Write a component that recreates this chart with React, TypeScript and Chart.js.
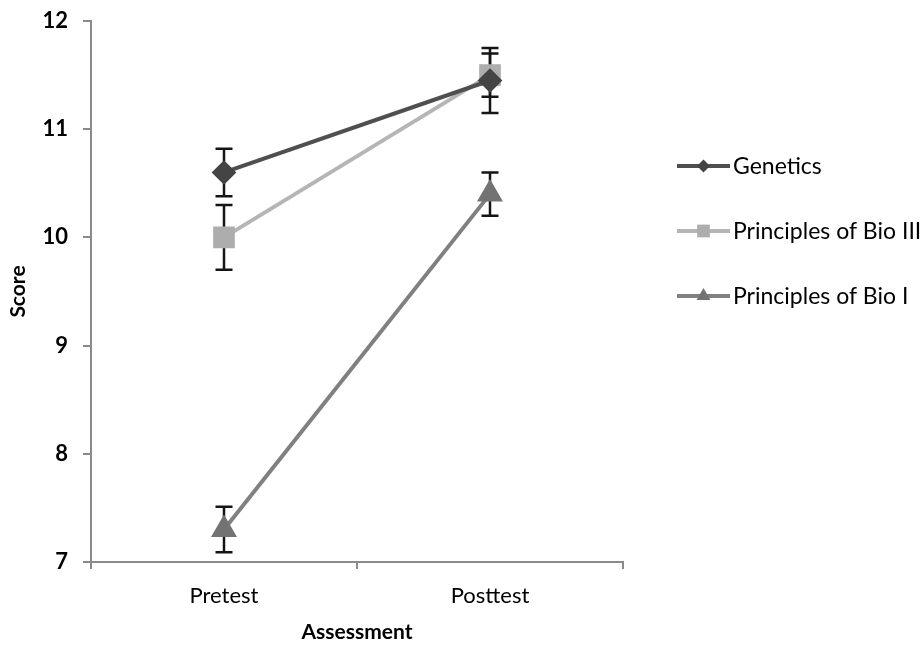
import React, { useEffect, useRef } from 'react';
import { Chart, registerables } from 'chart.js';

Chart.register(...registerables);

const categories = ['Pretest', 'Posttest'];
const seriesNames = ['Genetics', 'Principles of Bio III', 'Principles of Bio I'];
const geneticsScores = [10.6, 11.45];
const bio3Scores = [10.0, 11.5];
const bio1Scores = [7.3, 10.4];
const geneticsErr = [0.22, 0.3];
const bio3Err = [0.3, 0.2];
const bio1Err = [0.21, 0.2];
const yMin = 7;
const yMax = 12;
const yStep = 1;
const xTitle = 'Assessment';
const yTitle = 'Score';

const FONT = 'Lato, "DejaVu Sans", sans-serif';

function drawMarker(ctx: CanvasRenderingContext2D, style: string, x: number, y: number, r: number, color: string) {
  ctx.save();
  ctx.fillStyle = color;
  ctx.beginPath();
  if (style === 'rectRot') {
    ctx.moveTo(x - r, y);
    ctx.lineTo(x, y - r);
    ctx.lineTo(x + r, y);
    ctx.lineTo(x, y + r);
  } else if (style === 'rect') {
    const s = r * Math.SQRT1_2;
    ctx.rect(x - s, y - s, 2 * s, 2 * s);
  } else {
    const w = r * Math.sqrt(3) / 2;
    ctx.moveTo(x, y - r);
    ctx.lineTo(x + w, y + r / 2);
    ctx.lineTo(x - w, y + r / 2);
  }
  ctx.closePath();
  ctx.fill();
  ctx.restore();
}

const errorBarPlugin = {
  id: 'errorBars',
  beforeDatasetsDraw(chart: any) {
    const ctx = chart.ctx as CanvasRenderingContext2D;
    const yScale = chart.scales.y;
    chart.data.datasets.forEach((ds: any, i: number) => {
      const meta = chart.getDatasetMeta(i);
      meta.data.forEach((pt: any, j: number) => {
        const v = ds.data[j];
        const e = ds.errors[j];
        const top = yScale.getPixelForValue(v + e);
        const bot = yScale.getPixelForValue(v - e);
        ctx.save();
        ctx.strokeStyle = '#151515';
        ctx.lineWidth = 2.5;
        ctx.beginPath();
        ctx.moveTo(pt.x, top);
        ctx.lineTo(pt.x, bot);
        ctx.moveTo(pt.x - 8.5, top);
        ctx.lineTo(pt.x + 8.5, top);
        ctx.moveTo(pt.x - 8.5, bot);
        ctx.lineTo(pt.x + 8.5, bot);
        ctx.stroke();
        ctx.restore();
      });
    });
  },
};

const sideLegendPlugin = {
  id: 'sideLegend',
  afterDraw(chart: any, _args: any, opts: any) {
    const ctx = chart.ctx as CanvasRenderingContext2D;
    const x0 = chart.chartArea.right + opts.lineStart;
    const x1 = x0 + opts.lineLength;
    chart.data.datasets.forEach((ds: any, i: number) => {
      const y = opts.top + i * opts.spacing;
      ctx.save();
      ctx.strokeStyle = ds.borderColor;
      ctx.lineWidth = 4;
      ctx.beginPath();
      ctx.moveTo(x0, y);
      ctx.lineTo(x1, y);
      ctx.stroke();
      drawMarker(ctx, ds.pointStyle, (x0 + x1) / 2, y, opts.markerRadius[i], ds.pointBackgroundColor);
      ctx.fillStyle = '#000';
      ctx.font = opts.font;
      ctx.textBaseline = 'middle';
      ctx.textAlign = 'left';
      ctx.fillText(ds.label, x1 + 3, y + 1);
      ctx.restore();
    });
  },
};

export default function App() {
  const ref = useRef<HTMLCanvasElement>(null);
  useEffect(() => {
    if (!ref.current) return;
    const chart = new Chart(ref.current, {
      type: 'line',
      data: {
        labels: categories,
        datasets: [
          {
            label: seriesNames[0],
            data: geneticsScores,
            errors: geneticsErr,
            borderColor: '#4f4f4f',
            backgroundColor: '#444444',
            pointBackgroundColor: '#444444',
            pointBorderColor: '#444444',
            pointStyle: 'rectRot',
            pointRadius: 9.5,
            borderWidth: 4,
          } as any,
          {
            label: seriesNames[1],
            data: bio3Scores,
            errors: bio3Err,
            borderColor: '#b5b5b5',
            backgroundColor: '#adadad',
            pointBackgroundColor: '#adadad',
            pointBorderColor: '#adadad',
            pointStyle: 'rect',
            pointRadius: 12.5,
            borderWidth: 4,
          } as any,
          {
            label: seriesNames[2],
            data: bio1Scores,
            errors: bio1Err,
            borderColor: '#808080',
            backgroundColor: '#737373',
            pointBackgroundColor: '#737373',
            pointBorderColor: '#737373',
            pointStyle: 'triangle',
            pointRadius: 11,
            borderWidth: 4,
          } as any,
        ],
      },
      options: {
        animation: false,
        responsive: false,
        devicePixelRatio: 1,
        layout: { padding: { top: 21, right: 300, left: 0, bottom: 0 } },
        plugins: {
          legend: { display: false },
          tooltip: { enabled: false },
          sideLegend: {
            lineStart: 54,
            lineLength: 53,
            top: 166,
            spacing: 65,
            markerRadius: [6.5, 9, 8],
            font: `23px ${FONT}`,
          },
        } as any,
        scales: {
          x: {
            type: 'category',
            offset: true,
            afterFit: (s: any) => { s.height = 83; },
            grid: { display: true, offset: true, drawOnChartArea: false, drawTicks: true, tickLength: 7, color: '#8a8a8a', lineWidth: 2 },
            border: { display: true, color: '#8a8a8a', width: 2 },
            ticks: { color: '#000', padding: 14, font: { family: FONT, size: 22 } },
            title: { display: true, text: xTitle, color: '#000', font: { family: FONT, size: 21, weight: 'bold' }, padding: { top: 0, bottom: 0 } },
          },
          y: {
            min: yMin,
            max: yMax,
            afterFit: (s: any) => { s.width = 91; s.paddingTop = 0; s.paddingBottom = 0; },
            grid: { display: true, drawOnChartArea: false, drawTicks: true, tickLength: 8, color: '#8a8a8a', lineWidth: 2 },
            border: { display: true, color: '#8a8a8a', width: 2 },
            ticks: { stepSize: yStep, color: '#000', padding: 15, font: { family: FONT, size: 22, weight: 'bold' } },
            title: { display: true, text: yTitle, color: '#000', font: { family: FONT, size: 21, weight: 'bold' }, padding: { top: 6, bottom: 0 } },
          },
        },
      },
      plugins: [errorBarPlugin, sideLegendPlugin],
    });
    return () => chart.destroy();
  }, []);
  return (
    <div style={{ position: 'absolute', left: 0, top: 0, width: 923, height: 645, background: '#fff' }}>
      <canvas ref={ref} width={923} height={645} />
    </div>
  );
}
